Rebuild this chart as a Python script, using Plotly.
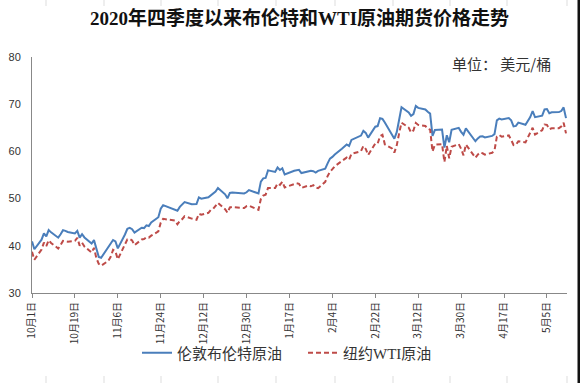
import plotly.graph_objects as go

dates = [
    "2020-10-01","2020-10-02","2020-10-05","2020-10-06","2020-10-07","2020-10-08","2020-10-09",
    "2020-10-12","2020-10-13","2020-10-14","2020-10-15","2020-10-16","2020-10-19","2020-10-20",
    "2020-10-21","2020-10-22","2020-10-23","2020-10-26","2020-10-27","2020-10-28","2020-10-29",
    "2020-10-30","2020-11-02","2020-11-03","2020-11-04","2020-11-05","2020-11-06","2020-11-09",
    "2020-11-10","2020-11-11","2020-11-12","2020-11-13","2020-11-16","2020-11-17","2020-11-18",
    "2020-11-19","2020-11-20","2020-11-23","2020-11-24","2020-11-25","2020-11-27","2020-11-30",
    "2020-12-01","2020-12-02","2020-12-03","2020-12-04","2020-12-07","2020-12-08","2020-12-09",
    "2020-12-10","2020-12-11","2020-12-14","2020-12-15","2020-12-16","2020-12-17","2020-12-18",
    "2020-12-21","2020-12-22","2020-12-23","2020-12-24","2020-12-29","2020-12-30","2020-12-31",
    "2021-01-04","2021-01-05","2021-01-06","2021-01-07","2021-01-08","2021-01-11","2021-01-12",
    "2021-01-13","2021-01-14","2021-01-15","2021-01-19","2021-01-20","2021-01-21","2021-01-22",
    "2021-01-25","2021-01-26","2021-01-27","2021-01-28","2021-01-29","2021-02-01","2021-02-02",
    "2021-02-03","2021-02-04","2021-02-05","2021-02-08","2021-02-09","2021-02-10","2021-02-11",
    "2021-02-12","2021-02-16","2021-02-17","2021-02-18","2021-02-19","2021-02-22","2021-02-23",
    "2021-02-24","2021-02-25","2021-02-26","2021-03-01","2021-03-02","2021-03-03","2021-03-04",
    "2021-03-05","2021-03-08","2021-03-09","2021-03-10","2021-03-11","2021-03-12","2021-03-15",
    "2021-03-16","2021-03-17","2021-03-18","2021-03-19","2021-03-22","2021-03-23","2021-03-24",
    "2021-03-25","2021-03-26","2021-03-29","2021-03-30","2021-03-31","2021-04-01","2021-04-05",
    "2021-04-06","2021-04-07","2021-04-08","2021-04-09","2021-04-12","2021-04-13","2021-04-14",
    "2021-04-15","2021-04-16","2021-04-19","2021-04-20","2021-04-21","2021-04-22","2021-04-23",
    "2021-04-26","2021-04-27","2021-04-28","2021-04-29","2021-04-30","2021-05-03","2021-05-04",
    "2021-05-05","2021-05-06","2021-05-07","2021-05-10","2021-05-11","2021-05-12","2021-05-13",
]

brent = [
    40.93,39.27,41.29,42.65,41.99,43.34,42.85,
    41.72,42.45,43.32,43.16,42.93,42.62,43.16,
    41.73,42.46,41.77,40.46,41.20,39.12,37.65,
    37.46,39.71,40.71,41.23,40.93,39.45,42.40,
    43.61,43.80,43.53,42.78,43.82,43.75,44.34,
    44.20,44.96,46.06,47.86,48.61,48.18,47.59,
    47.42,48.25,48.71,49.25,48.79,48.84,48.86,
    50.25,49.97,50.29,50.76,51.08,51.50,52.26,
    50.91,50.08,51.20,51.29,51.09,51.34,51.80,
    51.09,53.60,54.30,54.38,55.99,55.66,56.58,
    56.06,56.42,55.10,55.90,56.08,56.10,55.41,
    55.88,55.91,55.81,55.53,55.88,56.35,57.46,
    58.46,58.84,59.34,60.56,61.09,61.47,61.14,
    62.43,63.35,64.34,63.93,62.91,65.24,65.37,
    67.04,66.88,66.13,63.69,62.70,64.07,66.74,
    69.36,68.24,67.52,67.90,69.63,69.22,68.88,
    68.39,68.00,63.28,64.53,64.62,60.79,63.41,
    61.95,64.57,64.98,64.14,63.54,64.86,62.15,
    62.74,63.16,63.20,62.95,63.28,63.67,66.58,
    66.94,66.77,67.05,66.57,65.32,65.40,66.11,
    65.65,66.42,67.27,68.56,67.25,67.56,68.88,
    68.96,68.09,68.28,68.32,68.55,69.32,67.05,
]

wti = [
    38.72,37.05,39.22,40.67,39.95,41.19,40.60,
    39.43,40.20,41.04,40.96,40.88,41.06,41.70,
    40.03,40.64,39.85,38.56,39.57,37.39,36.17,
    35.79,36.81,37.66,39.15,38.79,37.14,40.29,
    41.36,41.45,41.12,40.13,41.34,41.43,41.82,
    41.74,42.15,43.06,44.91,45.71,45.53,45.34,
    44.55,45.28,45.64,46.26,45.76,45.60,45.52,
    46.78,46.57,46.99,47.62,47.82,48.36,49.10,
    47.74,47.02,48.12,48.23,48.00,48.40,48.52,
    47.62,49.93,50.63,50.83,52.24,52.25,53.21,
    52.91,53.57,52.36,52.98,53.24,53.13,52.27,
    52.77,52.61,52.85,52.34,52.20,53.55,54.76,
    55.69,56.23,56.85,57.97,58.36,58.68,58.24,
    59.47,60.05,61.14,60.52,59.24,61.70,61.67,
    63.22,63.53,61.50,60.64,59.75,61.28,63.83,
    66.09,65.05,64.01,64.44,66.02,65.61,65.39,
    64.80,64.60,60.00,61.42,61.55,57.76,61.18,
    58.56,60.97,61.56,60.55,59.16,61.45,58.65,
    59.33,59.77,59.60,59.32,59.70,60.18,63.15,
    63.46,63.13,63.38,62.44,61.35,61.43,62.14,
    61.91,62.94,63.86,65.01,63.58,64.49,65.69,
    65.63,64.71,64.90,64.92,65.28,66.08,63.82,
]

tick_dates = ["2020-10-01","2020-10-19","2020-11-06","2020-11-24","2020-12-12","2020-12-30",
              "2021-01-17","2021-02-04","2021-02-22","2021-03-12","2021-03-30","2021-04-17","2021-05-05"]
tick_labels = ["10月1日","10月19日","11月6日","11月24日","12月12日","12月30日",
               "1月17日","2月4日","2月22日","3月12日","3月30日","4月17日","5月5日"]

series_names = ["伦敦布伦特原油", "纽约WTI原油"]
title_text = "2020年四季度以来布伦特和WTI原油期货价格走势"
unit_text = "单位： 美元/桶"

SERIF_CJK = "Liberation Serif, Noto Sans CJK SC"

fig = go.Figure()
fig.add_trace(go.Scatter(x=dates, y=brent, mode="lines", name=series_names[0],
                         line=dict(color="#4A7EBB", width=2)))
fig.add_trace(go.Scatter(x=dates, y=wti, mode="lines", name=series_names[1],
                         line=dict(color="#BE4B48", width=2, dash="5px,3px")))

L, R, T, B = 32, 13, 57, 90
W, H = 580, 383
pw, ph = W - L - R, H - T - B

def px_x(x):
    return (x - L) / pw

def px_y(y):
    return (H - B - y) / ph

shapes = []
# dark right edge strip
shapes.append(dict(type="rect", xref="paper", yref="paper", x0=px_x(577.5), x1=px_x(580),
                   y0=px_y(0), y1=px_y(383), fillcolor="#111", line=dict(width=0), layer="above"))
# faint artifact ticks at top/bottom edges
for xx in [46, 104, 161, 218, 276, 335, 393, 450, 507, 567]:
    shapes.append(dict(type="line", xref="paper", yref="paper", x0=px_x(xx), x1=px_x(xx),
                       y0=px_y(0), y1=px_y(6), line=dict(color="#dddddd", width=1)))
    shapes.append(dict(type="line", xref="paper", yref="paper", x0=px_x(xx), x1=px_x(xx),
                       y0=px_y(376), y1=px_y(383), line=dict(color="#dddddd", width=1)))

fig.update_layout(
    width=W, height=H,
    margin=dict(l=L, r=R, t=T, b=B, autoexpand=False),
    paper_bgcolor="white", plot_bgcolor="white",
    title=dict(text=title_text, x=0.5, xref="paper", xanchor="center", y=1 - 18 / H, yanchor="middle",
               font=dict(family=SERIF_CJK, size=19, color="#111", weight="bold")),
    showlegend=True,
    legend=dict(orientation="h", x=px_x(137), xanchor="left", y=px_y(353), yanchor="middle",
                font=dict(family=SERIF_CJK, size=15, color="#333"),
                entrywidth=121, entrywidthmode="pixels", itemwidth=30,
                bgcolor="rgba(0,0,0,0)", traceorder="normal"),
    annotations=[dict(text=unit_text, xref="paper", yref="paper", x=px_x(553), y=px_y(63),
                      xanchor="right", yanchor="middle", showarrow=False,
                      font=dict(family="Noto Sans CJK SC", size=15, color="#333"))],
    shapes=shapes,
)

fig.update_xaxes(
    type="date",
    range=["2020-10-01", "2021-05-13 10:00"],
    tickvals=tick_dates, ticktext=tick_labels, tickangle=-90,
    showgrid=False, zeroline=False, automargin=False,
    showline=True, linecolor="#888", linewidth=1,
    ticks="outside", ticklen=4, tickcolor="#888",
    tickfont=dict(family="Noto Sans CJK SC", size=10, color="#333"),
)
fig.update_yaxes(
    range=[30, 80], dtick=10, tick0=30,
    showgrid=False, zeroline=False, automargin=False,
    showline=True, linecolor="#888", linewidth=1,
    ticks="", ticklabelstandoff=8,
    tickfont=dict(family="Liberation Sans", size=11, color="#333"),
)

fig.write_html("out.html", config={"displayModeBar": False},
               post_script="document.body.style.margin='0';document.body.style.overflow='hidden';")
